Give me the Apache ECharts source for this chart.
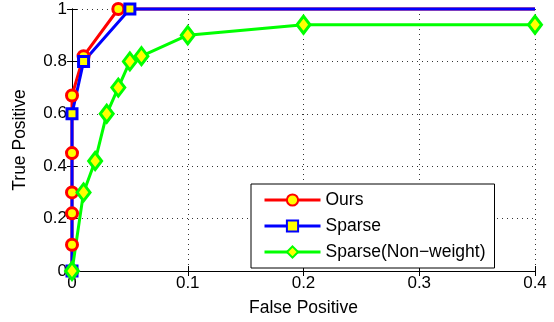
<!DOCTYPE html>
<html>
<head>
<meta charset="utf-8">
<script src="https://cdn.jsdelivr.net/npm/echarts@6/dist/echarts.min.js"></script>
<style>html,body{margin:0;padding:0;background:#fff}#c{width:554px;height:322px}</style>
</head>
<body>
<div id="c"></div>
<script>
const seriesNames = ['Ours', 'Sparse', 'Sparse(Non\u2212weight)'];
const oursFP = [0, 0, 0, 0, 0, 0, 0.01, 0.04, 0.4];
const oursTP = [0, 0.1, 0.22, 0.3, 0.45, 0.67, 0.82, 1, 1];
const sparseFP = [0, 0, 0.01, 0.05, 0.4];
const sparseTP = [0, 0.6, 0.8, 1, 1];
const nonwFP = [0, 0.01, 0.02, 0.03, 0.04, 0.05, 0.06, 0.1, 0.2, 0.4];
const nonwTP = [0, 0.3, 0.42, 0.6, 0.7, 0.8, 0.82, 0.9, 0.94, 0.94];
const xLabel = 'False Positive';
const yLabel = 'True Positive';

const FONT = 'Liberation Sans, Arial, sans-serif';
function pts(xs, ys, lastNoMarker) {
  return xs.map((x, i) => {
    const item = { value: [x, ys[i]] };
    if (lastNoMarker && i === xs.length - 1) item.symbol = 'none';
    return item;
  });
}
const chart = echarts.init(document.getElementById('c'), null, { renderer: 'canvas' });
const tickStyle = { inside: true, length: 5, lineStyle: { color: '#000', width: 1 } };
chart.setOption({
  animation: false,
  backgroundColor: '#fff',
  grid: { left: 72, right: 19, top: 9, bottom: 51, containLabel: false },
  legend: {
    orient: 'vertical', left: 251, top: 184,
    backgroundColor: '#fff', borderColor: '#000', borderWidth: 1, borderRadius: 0,
    padding: [7, 9, 7, 12], itemGap: 8, itemWidth: 56, itemHeight: 14,
    lineStyle: { width: 3 },
    textStyle: { fontFamily: FONT, fontSize: 17.5, color: '#000' },
    data: seriesNames
  },
  xAxis: [{
    type: 'value', min: 0, max: 0.4, interval: 0.1,
    name: xLabel, nameLocation: 'middle', nameGap: 28,
    nameTextStyle: { fontFamily: FONT, fontSize: 17.5, color: '#000' },
    axisLine: { lineStyle: { color: '#000', width: 1 } },
    axisTick: tickStyle,
    axisLabel: { fontFamily: FONT, fontSize: 17, color: '#000', margin: 4 },
    splitLine: { show: true, lineStyle: { color: '#333', type: [1, 4], width: 1 } }
  }, {
    type: 'value', min: 0, max: 0.4, interval: 0.1, position: 'top',
    axisLine: { show: true, lineStyle: { color: '#000', width: 1 } },
    axisTick: tickStyle, axisLabel: { show: false }, splitLine: { show: false }
  }],
  yAxis: [{
    type: 'value', min: 0, max: 1, interval: 0.2,
    name: yLabel, nameLocation: 'middle', nameGap: 43,
    nameTextStyle: { fontFamily: FONT, fontSize: 17.5, color: '#000' },
    axisLine: { show: true, lineStyle: { color: '#000', width: 1 } },
    axisTick: tickStyle,
    axisLabel: { fontFamily: FONT, fontSize: 17, color: '#000', margin: 5 },
    splitLine: { show: true, lineStyle: { color: '#333', type: [1, 4], width: 1 } }
  }, {
    type: 'value', min: 0, max: 1, interval: 0.2, position: 'right',
    axisLine: { show: true, lineStyle: { color: '#000', width: 1 } },
    axisTick: tickStyle, axisLabel: { show: false }, splitLine: { show: false }
  }],
  series: [{
    name: seriesNames[0], type: 'line', data: pts(oursFP, oursTP, true),
    clip: false, symbol: 'circle', symbolSize: 11,
    lineStyle: { color: '#ff0000', width: 3 },
    itemStyle: { color: '#ffff00', borderColor: '#ff0000', borderWidth: 3 }
  }, {
    name: seriesNames[1], type: 'line', data: pts(sparseFP, sparseTP, true),
    clip: false, symbol: 'rect', symbolSize: 10,
    lineStyle: { color: '#0000ff', width: 3 },
    itemStyle: { color: '#ffff00', borderColor: '#0000ff', borderWidth: 3 }
  }, {
    name: seriesNames[2], type: 'line', data: pts(nonwFP, nonwTP, false),
    clip: false, symbol: 'diamond', symbolSize: [13, 17],
    lineStyle: { color: '#00ff00', width: 3 },
    itemStyle: { color: '#ffff00', borderColor: '#00ff00', borderWidth: 3 }
  }]
});
</script>
</body>
</html>
